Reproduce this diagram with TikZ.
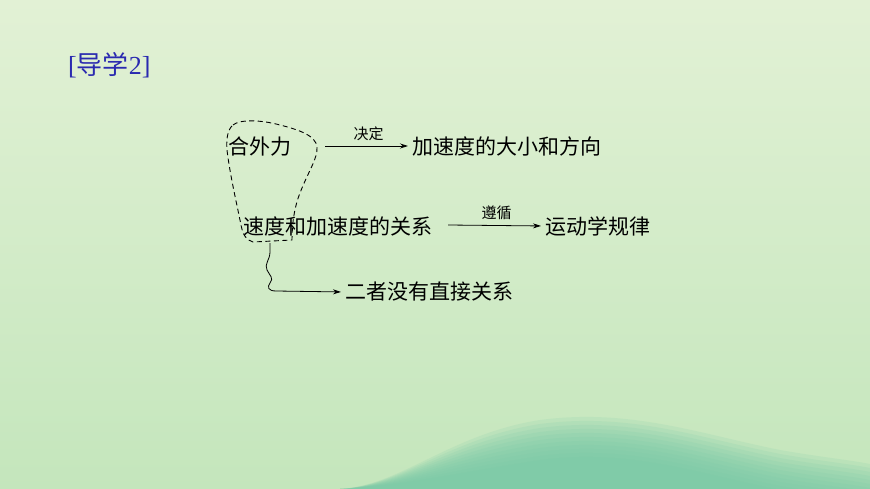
\documentclass[tikz,border=0pt]{standalone}
\usepackage{fontspec}
\setmainfont{Liberation Serif}
\newfontfamily\cjk{Noto Sans CJK SC}
\usetikzlibrary{arrows.meta}
\definecolor{bgtop}{HTML}{E2F1D5}
\definecolor{bgbot}{HTML}{C4E6BC}
\definecolor{teal1}{HTML}{74C8A6}
\definecolor{titleblue}{HTML}{2A2AB0}
\tikzset{
  cn/.style={font=\cjk\fontsize{21}{21}\selectfont, inner sep=0pt, anchor=west},
  lbl/.style={font=\cjk\fontsize{15}{15}\selectfont, inner sep=0pt},
  arr/.style={-{Stealth[length=8pt,width=5pt]}, line width=0.8pt, shorten >=4pt},
  dashline/.style={line width=0.9pt, dash pattern=on 5pt off 3.5pt}
}
\begin{document}
\begin{tikzpicture}[x=1pt,y=-1pt]
\useasboundingbox (0,0) rectangle (870,489);
\shade[top color=bgtop, bottom color=bgbot] (0,0) rectangle (870,489);
% teal wave at bottom (soft layers)
\foreach \s in {-6,-2,2,6,10,14,18,22,26,30,34}{
\fill[teal1, opacity=0.14] (340,489) .. controls (400,486) and (450,440+\s) .. (540,426+\s)
  .. controls (630,414+\s) and (700,440+\s) .. (780,456+\s) .. controls (820,463+\s) and (850,466+\s) .. (870,470+\s) -- (870,489) -- cycle;
}
% title
\node[font=\fontsize{26}{26}\selectfont, text=titleblue, inner sep=0pt, anchor=west] (title) at (68,65) {[{\cjk 导学}2]};
% nodes
\node[cn] (hwl) at (228,147) {合外力};
\node[cn] (jsd) at (412,146) {加速度的大小和方向};
\node[cn] (gx) at (243,226) {速度和加速度的关系};
\node[cn] (yd) at (545,226) {运动学规律};
\node[cn] (ez) at (345,292) {二者没有直接关系};
% arrows
\draw[arr] (325,146) -- (jsd.west) node[lbl, midway, above=5pt] (jd) {决定};
\draw[arr] (448,225) -- (yd.west) node[lbl, midway, above=5pt] (zx) {遵循};
% dashed outline
\draw[dashline] (233,125) .. controls (240,119) and (262,120) .. (280,125)
  .. controls (300,130) and (316,136) .. (317,147)
  .. controls (318,158) and (308,172) .. (300,193)
  .. controls (294,208) and (292,225) .. (292,240)
  -- (253,242) .. controls (246,240) and (243,235) .. (241,225)
  .. controls (236,200) and (230,175) .. (227,150)
  .. controls (226,138) and (228,129) .. cycle;
% wavy connector
\coordinate (ws) at (270,243);
\draw[arr] (ws) -- (270,252) .. controls (270,260) and (264,264) .. (267,270)
  .. controls (270,276) and (274,278) .. (270,283)
  .. controls (267,287) and (268,291) .. (276,291) -- (ez.west);
\end{tikzpicture}
\end{document}
